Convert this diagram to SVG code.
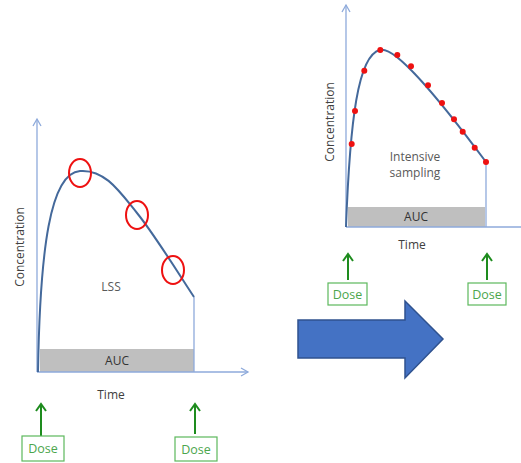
<svg xmlns="http://www.w3.org/2000/svg" width="521" height="463" viewBox="0 0 521 463">
<style>
text{font-family:"Open Sans","Liberation Sans",sans-serif;font-size:12px;fill:#333;}
.lbl{fill:#404040;}
.axis{stroke:#8EAADB;stroke-width:1.3;fill:none;}
.curve{stroke:#44699B;stroke-width:2;fill:none;}
.auc{fill:#BFBFBF;}
.dose rect{fill:#fff;stroke:#5CB85C;stroke-width:1.2;}
.dose text{fill:#4CA64C;font-size:12.5px;text-anchor:middle;}
.darr{stroke:#1E8C1E;stroke-width:2;fill:none;marker-end:url(#ga);}
.ring{fill:none;stroke:#EE1111;stroke-width:2;}
.dot{fill:#EE1111;}
</style>
<defs>
<marker id="ba" markerWidth="10" markerHeight="10" refX="8" refY="5" orient="auto" markerUnits="userSpaceOnUse"><path d="M1,1 L8,5 L1,9" fill="none" stroke="#8EAADB" stroke-width="1.3"/></marker>
<marker id="ga" markerWidth="12" markerHeight="12" refX="9" refY="6" orient="auto" markerUnits="userSpaceOnUse"><path d="M2,1 L9,6 L2,11" fill="none" stroke="#1E8C1E" stroke-width="2"/></marker>
</defs>
<g id="left-chart">
<rect class="auc" x="40" y="349" width="154" height="23"/>
<text x="117" y="365" text-anchor="middle">AUC</text>
<line class="axis" x1="37" y1="372" x2="37" y2="119" marker-end="url(#ba)"/>
<line class="axis" x1="37" y1="372" x2="248" y2="372" marker-end="url(#ba)"/>
<line class="axis" x1="194" y1="297" x2="194" y2="372"/>
<path class="curve" d="M38,372 C40,250 50,173 80,171 C105,169 120,192 137,213 S175,268 194,297"/>
<ellipse class="ring" cx="80" cy="173" rx="11" ry="14"/>
<ellipse class="ring" cx="137" cy="215" rx="11" ry="14"/>
<ellipse class="ring" cx="173" cy="270" rx="11" ry="14"/>
<text class="lbl" x="111" y="291" text-anchor="middle" fill="#595959" style="fill:#595959">LSS</text>
<text class="lbl" x="0" y="0" text-anchor="middle" transform="translate(24,247) rotate(-90)">Concentration</text>
<text class="lbl" x="111" y="399" text-anchor="middle">Time</text>
</g>
<g id="right-chart">
<rect class="auc" x="348" y="207" width="137" height="20"/>
<text x="416" y="221" text-anchor="middle">AUC</text>
<line class="axis" x1="346" y1="227" x2="346" y2="5" marker-end="url(#ba)"/>
<line class="axis" x1="346" y1="227" x2="521" y2="227"/>
<line class="axis" x1="486" y1="162" x2="486" y2="227"/>
<path class="curve" d="M346,227 C350,120 358,55 380,50 C395,45 440,100 486,162"/>
<circle class="dot" cx="351.7" cy="144" r="3"/>
<circle class="dot" cx="355" cy="111" r="3"/>
<circle class="dot" cx="364.3" cy="70.7" r="3"/>
<circle class="dot" cx="380.3" cy="50" r="3"/>
<circle class="dot" cx="397.3" cy="55" r="3"/>
<circle class="dot" cx="411" cy="66.3" r="3"/>
<circle class="dot" cx="428" cy="85.3" r="3"/>
<circle class="dot" cx="442" cy="103" r="3"/>
<circle class="dot" cx="454" cy="119.3" r="3"/>
<circle class="dot" cx="462.7" cy="131.7" r="3"/>
<circle class="dot" cx="474.7" cy="147.7" r="3"/>
<circle class="dot" cx="486" cy="162" r="3"/>
<text x="415" y="161" text-anchor="middle" style="fill:#595959">Intensive</text>
<text x="415" y="177" text-anchor="middle" style="fill:#595959">sampling</text>
<text class="lbl" x="0" y="0" text-anchor="middle" transform="translate(334,122) rotate(-90)">Concentration</text>
<text class="lbl" x="412" y="249" text-anchor="middle">Time</text>
</g>
<g id="connectors">
<line class="darr" x1="41" y1="436" x2="41" y2="404"/>
<line class="darr" x1="195" y1="434" x2="195" y2="404"/>
<line class="darr" x1="348" y1="280" x2="348" y2="254"/>
<line class="darr" x1="487" y1="280" x2="487" y2="254"/>
</g>
<g id="dose-1" class="dose"><rect x="22" y="436" width="42" height="25"/><text x="43" y="453">Dose</text></g>
<g id="dose-2" class="dose"><rect x="175" y="437" width="42" height="24"/><text x="196" y="454">Dose</text></g>
<g id="dose-3" class="dose"><rect x="328" y="283" width="39" height="22"/><text x="347.5" y="299">Dose</text></g>
<g id="dose-4" class="dose"><rect x="468" y="283" width="38" height="22"/><text x="487" y="299">Dose</text></g>
<g id="big-arrow">
<path d="M298,320 L405,320 L405,301 L443,339 L405,378 L405,358 L298,358 Z" fill="#4472C4" stroke="#2F528F" stroke-width="1.5"/>
</g>
</svg>
